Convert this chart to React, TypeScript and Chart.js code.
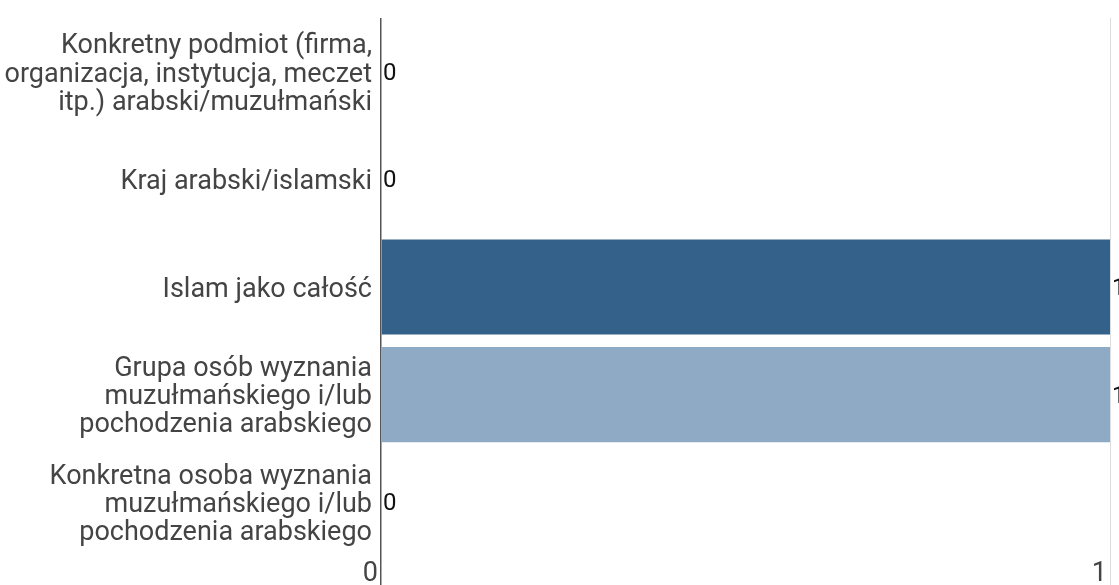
import React, { useEffect, useRef } from "react";
import { Chart, registerables } from "chart.js";

Chart.register(...registerables);

const categories: string[][] = [
  ["Konkretny podmiot (firma,", "organizacja, instytucja, meczet", "itp.) arabski/muzułmański"],
  ["Kraj arabski/islamski"],
  ["Islam jako całość"],
  ["Grupa osób wyznania", "muzułmańskiego i/lub", "pochodzenia arabskiego"],
  ["Konkretna osoba wyznania", "muzułmańskiego i/lub", "pochodzenia arabskiego"],
];
const values: number[] = [0, 0, 1, 1, 0];
const barColors: string[] = ["#336189", "#336189", "#336189", "#8eaac4", "#336189"];
const xTickLabels: string[] = ["0", "1"];

const dataLabelPlugin = {
  id: "dataLabels",
  afterDatasetsDraw(chart: any) {
    const ctx = chart.ctx;
    const meta = chart.getDatasetMeta(0);
    ctx.save();
    ctx.font = "24px Roboto";
    ctx.fillStyle = "#111";
    ctx.textAlign = "left";
    ctx.textBaseline = "middle";
    meta.data.forEach((el: any, i: number) => {
      ctx.fillText(String(values[i]), el.x + 2, el.y + 2);
    });
    ctx.restore();
  },
};

export default function App() {
  const ref = useRef<HTMLCanvasElement | null>(null);
  useEffect(() => {
    document.body.style.margin = "0";
    const chart = new Chart(ref.current!, {
      type: "bar",
      data: {
        labels: categories,
        datasets: [
          {
            data: values,
            backgroundColor: barColors,
            categoryPercentage: 1,
            barPercentage: 0.885,
          },
        ],
      },
      options: {
        indexAxis: "y",
        animation: false,
        responsive: false,
        layout: { padding: { top: 18, right: 9, left: 0, bottom: 0 } },
        plugins: { legend: { display: false }, tooltip: { enabled: false } },
        scales: {
          x: {
            min: 0,
            max: 1,
            afterFit: (s: any) => {
              s.height = 29;
              s.paddingLeft = 0;
              s.paddingRight = 0;
            },
            grid: {
              color: (c: any) => (c.index === 0 ? "#555" : "#ddd"),
              lineWidth: (c: any) => (c.index === 0 ? 1.5 : 1),
              tickLength: 29,
              drawTicks: true,
            },
            border: { display: false },
            ticks: {
              stepSize: 1,
              align: "end",
              padding: -27,
              labelOffset: -3,
              color: "#444",
              font: { family: "Roboto", size: 27 },
              callback: (v: any, i: number) => xTickLabels[i],
            },
          },
          y: {
            afterFit: (s: any) => {
              s.width = 381;
              s.paddingTop = 0;
              s.paddingBottom = 0;
            },
            grid: { display: false, drawTicks: false },
            border: { display: false },
            ticks: {
              padding: 9,
              labelOffset: 3,
              color: "#444",
              font: { family: "Roboto", size: 27, lineHeight: 1.04 },
            },
          },
        },
      },
      plugins: [dataLabelPlugin],
    });
    return () => chart.destroy();
  }, []);
  return <canvas ref={ref} width={1119} height={585} style={{ display: "block" }} />;
}
